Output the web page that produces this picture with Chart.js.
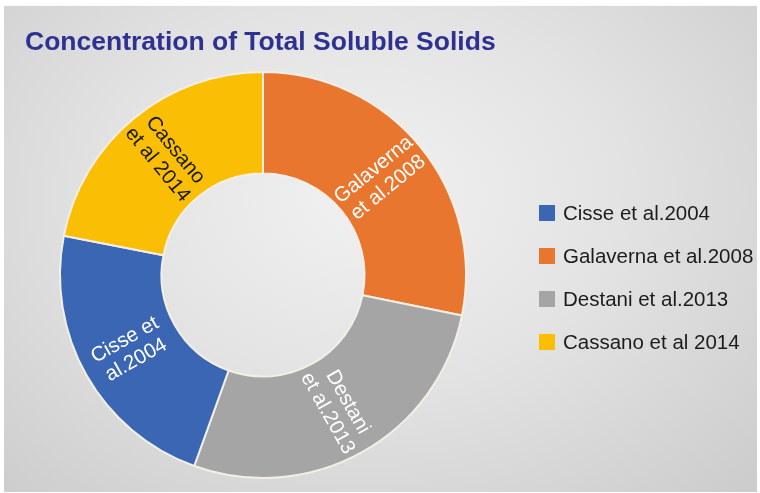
<!DOCTYPE html>
<html>
<head>
<meta charset="utf-8">
<script src="https://cdn.jsdelivr.net/npm/chart.js@4/dist/chart.umd.min.js"></script>
<style>
  html, body { margin: 0; padding: 0; background: #ffffff; }
  #wrap { position: relative; width: 760px; height: 493px; }
  #panel {
    position: absolute; left: 4px; top: 5px; width: 753px; height: 486px;
    background: radial-gradient(ellipse 560px 420px at 360px 190px, #f1f1f1 0%, #e3e3e3 45%, #cbcbcb 100%);
    border-top: 1px solid #fafafa;
  }
  canvas { position: absolute; left: 0; top: 0; }
</style>
</head>
<body>
<div id="wrap">
  <div id="panel"></div>
  <canvas id="c" width="760" height="493"></canvas>
</div>
<script>
// Total soluble solids share by study (legend order)
const studies = ['Cisse et al.2004', 'Galaverna et al.2008', 'Destani et al.2013', 'Cassano et al 2014'];
const sliceLabels = [['Cisse et', 'al.2004'], ['Galaverna', 'et al.2008'], ['Destani', 'et al.2013'], ['Cassano', 'et al 2014']];
const shares = [22.6, 28.2, 27.3, 21.9];
const studyColors = ['#3a66b3', '#e9762f', '#a5a5a5', '#fabf05'];
// Ring order, clockwise from 12 o'clock, as indices into the arrays above
const ringOrder = [1, 2, 0, 3];
const chartTitle = 'Concentration of Total Soluble Solids';

const FONT = '"Liberation Sans", Arial, sans-serif';

const ringLabels = ringOrder.map(i => studies[i]);
const ringValues = ringOrder.map(i => shares[i]);
const ringColors = ringOrder.map(i => studyColors[i]);
const ringText = ringOrder.map(i => sliceLabels[i]);

function isLight(hex) {
  const n = parseInt(hex.slice(1), 16);
  const r = (n >> 16) & 255, g = (n >> 8) & 255, b = n & 255;
  return (0.299 * r + 0.587 * g + 0.114 * b) > 170;
}

// Rotated labels drawn inside each ring segment, reading along the radius
const sliceText = {
  id: 'sliceText',
  afterDatasetsDraw(chart) {
    const ctx = chart.ctx;
    const meta = chart.getDatasetMeta(0);
    meta.data.forEach((arc, i) => {
      const p = arc.getProps(['x', 'y', 'startAngle', 'endAngle', 'innerRadius', 'outerRadius'], true);
      const mid = (p.startAngle + p.endAngle) / 2;
      const r = (p.innerRadius + p.outerRadius) / 2;
      const cx = p.x + Math.cos(mid) * r;
      const cy = p.y + Math.sin(mid) * r;
      let rot = mid;
      if (Math.cos(mid) < 0) rot += Math.PI;
      const lines = ringText[i];
      ctx.save();
      ctx.translate(cx, cy);
      ctx.rotate(rot);
      ctx.font = '20.5px ' + FONT;
      ctx.fillStyle = isLight(ringColors[i]) ? '#1a1a1a' : '#ffffff';
      ctx.textAlign = 'center';
      ctx.textBaseline = 'middle';
      const lh = 23;
      lines.forEach((t, k) => {
        ctx.fillText(t, 0, (k - (lines.length - 1) / 2) * lh);
      });
      ctx.restore();
    });
  }
};

// Title and legend painted on the canvas
const frameText = {
  id: 'frameText',
  afterDraw(chart) {
    const ctx = chart.ctx;
    ctx.save();
    ctx.font = 'bold 26.5px ' + FONT;
    ctx.fillStyle = '#2e3192';
    ctx.textAlign = 'left';
    ctx.textBaseline = 'alphabetic';
    ctx.fillText(chartTitle, 25, 50);

    const x0 = 539, y0 = 213, step = 43, box = 16;
    ctx.font = '20.5px ' + FONT;
    ctx.textBaseline = 'middle';
    studies.forEach((name, i) => {
      const y = y0 + i * step;
      ctx.fillStyle = studyColors[i];
      ctx.fillRect(x0, y - box / 2, box, box);
      ctx.fillStyle = '#1c1c1c';
      ctx.fillText(name, x0 + 24, y + 1);
    });
    ctx.restore();
  }
};

new Chart(document.getElementById('c'), {
  type: 'doughnut',
  data: {
    labels: ringLabels,
    datasets: [{
      data: ringValues,
      backgroundColor: ringColors,
      borderColor: '#f3efe6',
      borderWidth: 2
    }]
  },
  options: {
    responsive: false,
    animation: false,
    rotation: 0,
    cutout: '50%',
    layout: { padding: { left: 59, right: 293, top: 71, bottom: 14 } },
    plugins: {
      legend: { display: false },
      title: { display: false },
      tooltip: { enabled: false }
    }
  },
  plugins: [sliceText, frameText]
});
</script>
</body>
</html>
